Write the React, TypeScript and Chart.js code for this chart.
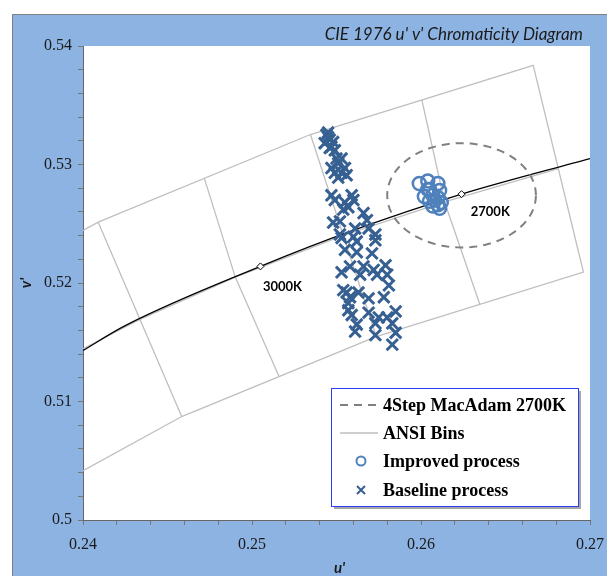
import React, { useEffect, useRef } from "react";
import { Chart, registerables } from "chart.js";

Chart.register(...registerables);

// ---- axes ----
const xRange = [0.24, 0.27];
const yRange = [0.5, 0.54];
const tickStep = 0.002;
const chartTitle = "CIE 1976 u' v' Chromaticity Diagram";
const xTitle = "u'";
const yTitle = "v'";

// ---- Planckian locus ----
const locusU = [0.24, 0.2425, 0.2505, 0.2561, 0.2624, 0.27];
const locusV = [0.5143, 0.5164, 0.5214, 0.5245, 0.5275, 0.5305];

// ---- CCT reference points ----
const cctLabels = ["3000K", "2700K"];
const cctU = [0.2505, 0.2624];
const cctV = [0.5214, 0.5275];
const cctLabelU = [0.2518, 0.2641];
const cctLabelV = [0.5197, 0.526];

// ---- ANSI bins (u', v' vertices of polylines) ----
const ansiOutline = [
  [0.22773, 0.51483], [0.2409, 0.52513], [0.25346, 0.53253], [0.26664, 0.53837],
  [0.26961, 0.52092], [0.25735, 0.51548], [0.24584, 0.50873], [0.23392, 0.49939],
];
const ansi3000Side = [[0.2409, 0.52513], [0.24584, 0.50873]];
const ansi2700Side = [[0.25346, 0.53253], [0.25735, 0.51548]];
const ansi3000Split = [[0.24718, 0.52883], [0.24901, 0.5205], [0.2516, 0.51211]];
const ansi2700Split = [[0.26005, 0.53545], [0.26139, 0.52685], [0.26348, 0.5182]];
const ansiMidline = [
  [0.2366, 0.51197], [0.24337, 0.51693], [0.24901, 0.5205],
  [0.25541, 0.52401], [0.26139, 0.52685], [0.26813, 0.52965],
];

// ---- 4-step MacAdam ellipse, 2700K ----
const macadamCenter = [0.2624, 0.5274];
const macadamRadii = [0.0044, 0.0044];

// ---- measurements ----
const baselineU = [
  0.2544, 0.2546, 0.2543, 0.2547, 0.2549, 0.2545, 0.2548, 0.2546, 0.2553, 0.255,
  0.2547, 0.2555, 0.2556, 0.2551, 0.2553, 0.2549, 0.2547, 0.2559, 0.256, 0.2549,
  0.2557, 0.2554, 0.2566, 0.2568, 0.2548, 0.2552, 0.2561, 0.2569, 0.2552, 0.2573,
  0.256, 0.2553, 0.2562, 0.2573, 0.2555, 0.2562, 0.2571, 0.2558, 0.2553, 0.2566,
  0.2572, 0.2579, 0.2574, 0.258, 0.2564, 0.2581, 0.2556, 0.2563, 0.2558, 0.2569,
  0.2578, 0.2557, 0.2559, 0.2569, 0.2575, 0.258, 0.2585, 0.2562, 0.2573, 0.2583,
  0.2573, 0.2585, 0.2561, 0.2583, 0.2545, 0.2554, 0.2557, 0.2555, 0.2551,
];
const baselineV = [
  0.5325, 0.5321, 0.5318, 0.5315, 0.5312, 0.5323, 0.5319, 0.5314, 0.5305, 0.5305,
  0.5297, 0.5297, 0.5291, 0.5289, 0.5293, 0.5293, 0.5274, 0.5274, 0.527, 0.527,
  0.5264, 0.5262, 0.5259, 0.5253, 0.5251, 0.5252, 0.5246, 0.5246, 0.5241, 0.5241,
  0.5239, 0.5238, 0.5235, 0.5236, 0.5228, 0.5226, 0.5225, 0.5214, 0.5209, 0.5214,
  0.5211, 0.5215, 0.5207, 0.5207, 0.5207, 0.5198, 0.5192, 0.5192, 0.5188, 0.5187,
  0.5188, 0.5177, 0.5173, 0.5175, 0.5171, 0.5171, 0.5176, 0.5165, 0.5166, 0.5166,
  0.5156, 0.5158, 0.5159, 0.5148, 0.5327, 0.5194, 0.5183, 0.5268, 0.5301,
];
const improvedU = [
  0.2599, 0.2604, 0.261, 0.2605, 0.2611, 0.2602, 0.261, 0.2605, 0.261, 0.2607,
  0.2612, 0.2604, 0.2607, 0.2611, 0.2608,
];
const improvedV = [
  0.5284, 0.5286, 0.5284, 0.5279, 0.5278, 0.5273, 0.5272, 0.5269, 0.5266, 0.5265,
  0.5268, 0.5279, 0.5274, 0.5263, 0.527,
];

const legendLabels = ["4Step MacAdam 2700K", "ANSI Bins", "Improved process", "Baseline process"];

const BLUE_BG = "#8DB3E2";
const GRAY_LINE = "#BFBFBF";
const DASH_GRAY = "#808080";
const IMPROVED = "#4F81BD";
const BASELINE = "#376092";

const pts = (us: number[], vs: number[]) => us.map((u, i) => ({ x: u, y: vs[i] }));

function ansiData() {
  const groups = [ansiOutline, ansi3000Side, ansi2700Side, ansi3000Split, ansi2700Split, ansiMidline];
  const out: any[] = [];
  groups.forEach((g, gi) => {
    if (gi > 0) out.push({ x: null, y: null });
    g.forEach(([u, v]) => out.push({ x: u, y: v }));
  });
  return out;
}

function ellipseData() {
  const out: any[] = [];
  const n = 96;
  for (let i = 0; i <= n; i++) {
    const t = (i / n) * Math.PI * 2;
    out.push({
      x: macadamCenter[0] + macadamRadii[0] * Math.cos(t),
      y: macadamCenter[1] + macadamRadii[1] * Math.sin(t),
    });
  }
  return out;
}

const isMajor = (v: number) => Math.abs(v * 100 - Math.round(v * 100)) < 1e-6;

const backgroundPlugin = {
  id: "bgPlugin",
  beforeDraw(chart: any) {
    const { ctx, chartArea: a, width, height } = chart;
    ctx.save();
    ctx.fillStyle = "#ffffff";
    ctx.fillRect(0, 0, width, height);
    ctx.fillStyle = BLUE_BG;
    ctx.fillRect(12, 14, width - 12, height - 14);
    ctx.strokeStyle = "#7f7f7f";
    ctx.lineWidth = 1;
    ctx.beginPath();
    ctx.moveTo(12.5, height);
    ctx.lineTo(12.5, 14.5);
    ctx.lineTo(width, 14.5);
    ctx.stroke();
    ctx.fillStyle = "#ffffff";
    ctx.fillRect(a.left, a.top, a.right - a.left, a.bottom - a.top);
    ctx.restore();
  },
};

const labelsPlugin = {
  id: "labelsPlugin",
  afterDatasetsDraw(chart: any) {
    const { ctx, scales } = chart;
    ctx.save();
    ctx.fillStyle = "#000";
    ctx.font = "bold 13px Lato";
    ctx.textAlign = "center";
    ctx.textBaseline = "middle";
    cctLabels.forEach((t, i) => {
      ctx.fillText(t, scales.x.getPixelForValue(cctLabelU[i]), scales.y.getPixelForValue(cctLabelV[i]));
    });
    ctx.restore();
  },
  afterDraw(chart: any) {
    const { ctx, chartArea: a } = chart;
    ctx.save();
    // chart title
    ctx.fillStyle = "#1a1a1a";
    ctx.font = "italic 17px Lato";
    ctx.textAlign = "right";
    ctx.textBaseline = "middle";
    ctx.fillText(chartTitle, 583, 35);
    // axis titles
    ctx.font = "italic bold 15px Lato";
    ctx.textAlign = "center";
    ctx.fillText(xTitle, (a.left + a.right) / 2 + 3, 568);
    ctx.save();
    ctx.translate(26, (a.top + a.bottom) / 2);
    ctx.rotate(-Math.PI / 2);
    ctx.fillText(yTitle, 0, 0);
    ctx.restore();

    // legend
    const bx = 331, by = 388, bw = 247, bh = 118;
    ctx.fillStyle = "#a6a6a6";
    ctx.fillRect(bx + 3, by + 3, bw, bh);
    ctx.fillStyle = "#ffffff";
    ctx.fillRect(bx, by, bw, bh);
    ctx.strokeStyle = "#2E3CF0";
    ctx.lineWidth = 1;
    ctx.strokeRect(bx + 0.5, by + 0.5, bw, bh);
    const rows = [405, 433, 461, 490];
    const sx0 = 340, sx1 = 378, mx = 361;
    // dashed
    ctx.strokeStyle = DASH_GRAY;
    ctx.lineWidth = 2;
    ctx.setLineDash([8, 6]);
    ctx.beginPath();
    ctx.moveTo(sx0, rows[0]);
    ctx.lineTo(sx1, rows[0]);
    ctx.stroke();
    ctx.setLineDash([]);
    // solid gray
    ctx.strokeStyle = GRAY_LINE;
    ctx.lineWidth = 1.5;
    ctx.beginPath();
    ctx.moveTo(sx0, rows[1]);
    ctx.lineTo(sx1, rows[1]);
    ctx.stroke();
    // circle
    ctx.strokeStyle = IMPROVED;
    ctx.lineWidth = 2;
    ctx.beginPath();
    ctx.arc(mx, rows[2], 4.5, 0, Math.PI * 2);
    ctx.stroke();
    // cross
    ctx.strokeStyle = BASELINE;
    ctx.lineWidth = 2;
    ctx.beginPath();
    ctx.moveTo(mx - 4, rows[3] - 4);
    ctx.lineTo(mx + 4, rows[3] + 4);
    ctx.moveTo(mx + 4, rows[3] - 4);
    ctx.lineTo(mx - 4, rows[3] + 4);
    ctx.stroke();
    ctx.fillStyle = "#000";
    ctx.font = "bold 18px 'Liberation Serif'";
    ctx.textAlign = "left";
    ctx.textBaseline = "middle";
    legendLabels.forEach((t, i) => ctx.fillText(t, 383, rows[i] + 1));
    ctx.restore();
  },
};

export default function App() {
  const ref = useRef<HTMLCanvasElement | null>(null);
  useEffect(() => {
    if (!ref.current) return;
    const chart = new Chart(ref.current, {
      type: "scatter",
      data: {
        datasets: [
          {
            label: "cct",
            data: pts(cctU, cctV),
            pointStyle: "rectRot",
            pointRadius: 3.5,
            backgroundColor: "#ffffff",
            borderColor: "#000000",
            borderWidth: 1,
            showLine: false,
          },
          {
            label: legendLabels[2],
            data: pts(improvedU, improvedV),
            pointStyle: "circle",
            pointRadius: 6.5,
            borderWidth: 2.5,
            borderColor: IMPROVED,
            backgroundColor: "rgba(0,0,0,0)",
            showLine: false,
          },
          {
            label: legendLabels[3],
            data: pts(baselineU, baselineV),
            pointStyle: "crossRot",
            pointRadius: 8,
            borderWidth: 3,
            borderColor: BASELINE,
            backgroundColor: BASELINE,
            showLine: false,
          },
          {
            label: legendLabels[0],
            data: ellipseData(),
            showLine: true,
            pointRadius: 0,
            borderColor: DASH_GRAY,
            borderWidth: 2,
            borderDash: [8, 6],
            fill: false,
          },
          {
            label: "locus",
            data: pts(locusU, locusV),
            showLine: true,
            pointRadius: 0,
            borderColor: "#000000",
            borderWidth: 1.3,
            cubicInterpolationMode: "monotone",
            fill: false,
          },
          {
            label: legendLabels[1],
            data: ansiData(),
            showLine: true,
            spanGaps: false,
            pointRadius: 0,
            borderColor: GRAY_LINE,
            borderWidth: 1.3,
            fill: false,
          },
        ] as any,
      },
      options: {
        animation: false,
        responsive: false,
        events: [],
        layout: { padding: { left: 0, top: 46, right: 17, bottom: 0 } },
        plugins: { legend: { display: false }, tooltip: { enabled: false }, title: { display: false } },
        scales: {
          x: {
            type: "linear",
            min: xRange[0],
            max: xRange[1],
            afterFit: (s: any) => {
              s.height = 56;
              s.paddingRight = 0;
              s.paddingLeft = 0;
            },
            border: { display: true, color: "#666", width: 1 },
            grid: { display: true, drawOnChartArea: false, drawTicks: true, tickLength: 5, color: "#777" },
            ticks: {
              stepSize: tickStep,
              autoSkip: false,
              maxRotation: 0,
              padding: 10,
              color: "#1a1a1a",
              font: { family: "'Liberation Serif'", size: 16 },
              callback: (v: any) => (isMajor(Number(v)) ? String(Math.round(Number(v) * 100) / 100) : ""),
            },
          },
          y: {
            type: "linear",
            min: yRange[0],
            max: yRange[1],
            afterFit: (s: any) => {
              s.width = 83;
              s.paddingTop = 0;
              s.paddingBottom = 0;
            },
            border: { display: true, color: "#666", width: 1 },
            grid: { display: true, drawOnChartArea: false, drawTicks: true, tickLength: 5, color: "#777" },
            ticks: {
              stepSize: tickStep,
              autoSkip: false,
              padding: 6,
              color: "#1a1a1a",
              font: { family: "'Liberation Serif'", size: 16 },
              callback: (v: any) => (isMajor(Number(v)) ? String(Math.round(Number(v) * 100) / 100) : ""),
            },
          },
        },
      } as any,
      plugins: [backgroundPlugin, labelsPlugin],
    });
    return () => chart.destroy();
  }, []);
  return (
    <div style={{ position: "absolute", left: 0, top: 0, width: 607, height: 576 }}>
      <canvas ref={ref} width={607} height={576} style={{ display: "block", width: 607, height: 576 }} />
    </div>
  );
}
